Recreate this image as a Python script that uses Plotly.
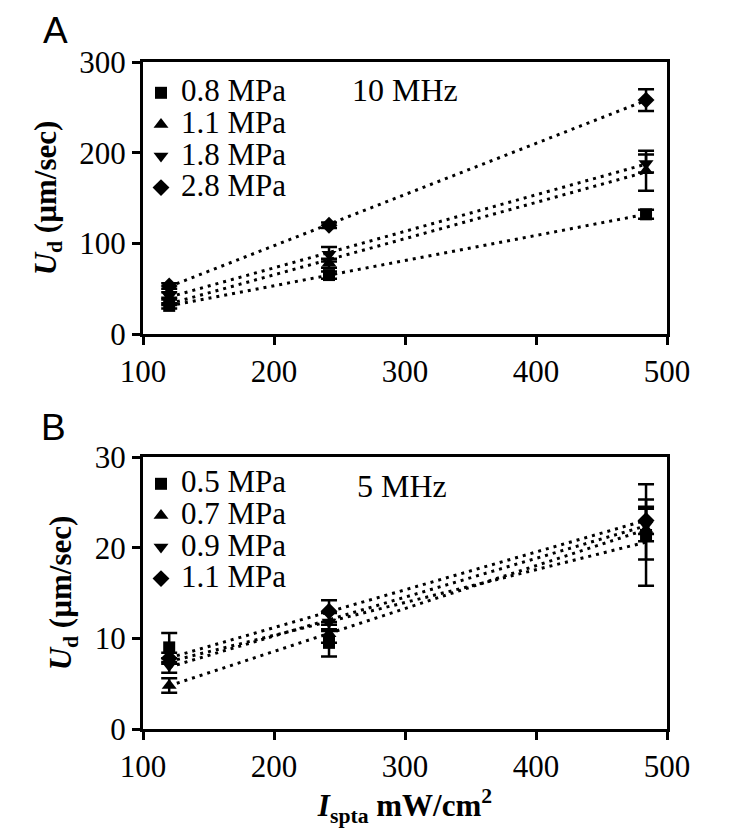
import numpy as np
import plotly.graph_objects as go

# ---------------- data ----------------
intensity = [120, 242, 484]          # I_spta (mW/cm^2)

# Panel A, 10 MHz
a_labels = ["0.8 MPa", "1.1 MPa", "1.8 MPa", "2.8 MPa"]
a_08 = [31, 65, 132]
a_08_err = [3, 4, 5]
a_11 = [36, 78, 180]
a_11_err = [4, 5, 22]
a_18 = [42, 88, 188]
a_18_err = [4, 8, 10]
a_28 = [53, 120, 258]
a_28_err = [3, 3, 12]

# Panel B, 5 MHz
b_labels = ["0.5 MPa", "0.7 MPa", "0.9 MPa", "1.1 MPa"]
b_05 = [9.0, 9.5, 21.4]
b_05_err = [1.6, 1.5, 5.6]
b_07 = [4.8, 10.5, 22.0]
b_07_err = [0.8, 1.0, 3.3]
b_09 = [7.0, 11.8, 22.5]
b_09_err = [0.8, 1.0, 1.8]
b_11 = [7.8, 13.0, 23.0]
b_11_err = [0.6, 1.2, 1.5]

x_ticks = [100, 200, 300, 400, 500]
a_yticks = [0, 100, 200, 300]
b_yticks = [0, 10, 20, 30]

symbols = ["square", "triangle-up", "triangle-down", "diamond"]
sizes = [12, 13, 13, 13]

SERIF = "Liberation Serif"
FS = 31

# page has an 8px body margin; figure is sized to fill the rest of the window
OFF = 8
W, H = 740 - OFF, 834 - OFF

def px(p):
    return (p - OFF) / W

def py(p):
    return 1 - (p - OFF) / H

fig = go.Figure()

def add_panel(series, errs, labels, xa, ya, legend):
    for vals, err, lab, sym, sz in zip(series, errs, labels, symbols, sizes):
        # dotted linear trend line
        k, b = np.polyfit(intensity, vals, 1)
        xs = [min(intensity), max(intensity)]
        fig.add_trace(go.Scatter(
            x=xs, y=[k * v + b for v in xs], mode="lines",
            line=dict(color="black", width=3, dash="3px,5px"),
            showlegend=False, hoverinfo="skip", xaxis=xa, yaxis=ya))
        fig.add_trace(go.Scatter(
            x=intensity, y=vals, mode="markers",
            name='<span style="font-size:31px">' + lab + "</span>",
            marker=dict(symbol=sym, size=sz, color="black"),
            error_y=dict(type="data", array=err, color="black",
                         thickness=2.5, width=8),
            legend=legend, xaxis=xa, yaxis=ya))

add_panel([a_08, a_11, a_18, a_28], [a_08_err, a_11_err, a_18_err, a_28_err],
          a_labels, "x", "y", "legend")
add_panel([b_05, b_07, b_09, b_11], [b_05_err, b_07_err, b_09_err, b_11_err],
          b_labels, "x2", "y2", "legend2")

axis_common = dict(
    showgrid=False, zeroline=False, showline=True, linecolor="black",
    linewidth=3, mirror=True, ticks="outside", ticklen=8, tickwidth=2.5,
    tickcolor="black", tickfont=dict(family=SERIF, size=FS, color="black"),
    automargin=False,
)

xdom = [px(143), px(667)]
ytitle = "<b><i>U</i><sub>d</sub> (µm/sec)</b>"

legend_common = dict(
    font=dict(family=SERIF, size=22, color="black"),
    bgcolor="rgba(0,0,0,0)", borderwidth=0, itemwidth=30,
    xanchor="left", yanchor="top", tracegroupgap=0,
)

fig.update_layout(
    width=W, height=H,
    margin=dict(l=0, r=0, t=0, b=0, autoexpand=False),
    paper_bgcolor="white", plot_bgcolor="white",
    font=dict(family=SERIF, size=FS, color="black"),
    xaxis=dict(domain=xdom, range=[100, 500], tickvals=x_ticks,
               anchor="y", **axis_common),
    yaxis=dict(domain=[py(334), py(62)], range=[0, 300],
               tickvals=a_yticks, anchor="x",
               title=dict(text=ytitle, font=dict(family=SERIF, size=FS),
                          standoff=14),
               **axis_common),
    xaxis2=dict(domain=xdom, range=[100, 500], tickvals=x_ticks,
                anchor="y2",
                title=dict(text="<b><i>I</i><sub>spta</sub> mW/cm<sup>2</sup></b>",
                           font=dict(family=SERIF, size=FS), standoff=2),
                **axis_common),
    yaxis2=dict(domain=[py(729), py(457)], range=[0, 30],
                tickvals=b_yticks, anchor="x2",
                title=dict(text=ytitle, font=dict(family=SERIF, size=FS),
                           standoff=14),
                **axis_common),
    legend=dict(x=px(141), y=py(72), **legend_common),
    legend2=dict(x=px(141), y=py(463), **legend_common),
    annotations=[
        dict(text="10 MHz", x=300, y=269, xref="x", yref="y", showarrow=False,
             font=dict(family=SERIF, size=FS + 1, color="black")),
        dict(text="5 MHz", x=298, y=26.8, xref="x2", yref="y2", showarrow=False,
             font=dict(family=SERIF, size=FS + 1, color="black")),
        dict(text="A", x=px(55), y=1, xref="paper", yref="paper",
             xanchor="center", yanchor="top", showarrow=False,
             font=dict(family="Liberation Sans", size=37, color="black")),
        dict(text="B", x=px(53), y=py(405), xref="paper", yref="paper",
             xanchor="center", yanchor="top", showarrow=False,
             font=dict(family="Liberation Sans", size=37, color="black")),
    ],
)

fig.write_html("out.html")
